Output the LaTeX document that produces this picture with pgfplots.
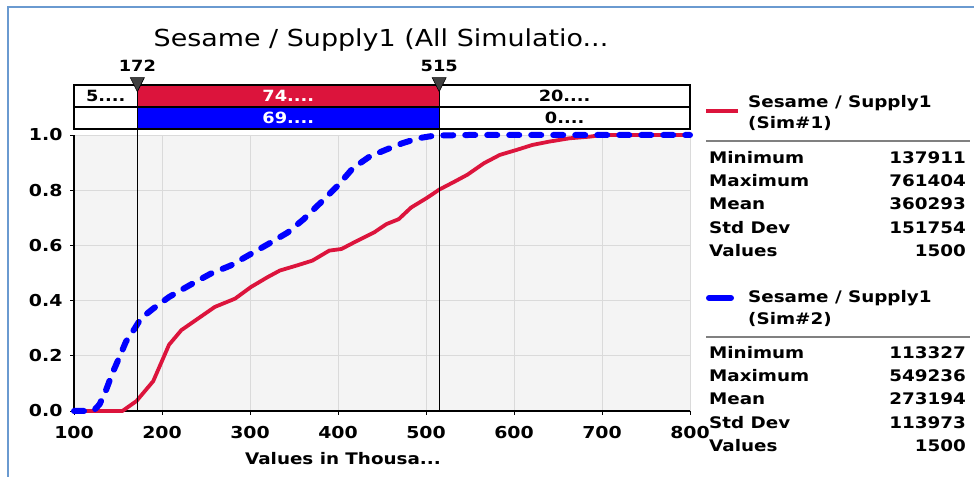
\documentclass[border=0pt]{standalone}
\usepackage{pgfplots}
\pgfplotsset{compat=1.18}
\usepackage{fontspec}
\setmainfont{DejaVu Sans}[FakeStretch=1.15]
\definecolor{cred}{RGB}{220,20,60}
\definecolor{cblue}{RGB}{0,0,255}
\definecolor{bgc}{RGB}{244,244,244}
\definecolor{gridc}{RGB}{218,218,218}
\definecolor{framec}{RGB}{106,154,208}
\pgfplotstableread{
x y
100 0
155 0
171 0.036
190 0.108
199 0.174
208 0.24
222 0.293
241 0.335
260 0.377
283 0.407
301 0.449
320 0.485
334 0.509
353 0.527
371 0.545
390 0.581
404 0.587
422 0.617
441 0.647
455 0.677
469 0.695
483 0.737
501 0.772
515 0.802
533 0.832
547 0.856
566 0.898
584 0.928
603 0.946
621 0.964
640 0.976
663 0.988
686 0.994
700 1.0
761 1.0
800 1.0
}\simone
\pgfplotstableread{
x y
100 0
122 0
129 0.024
136 0.072
143 0.132
152 0.198
159 0.251
169 0.299
176 0.335
190 0.371
208 0.413
231 0.455
255 0.497
278 0.527
301 0.569
324 0.611
343 0.647
361 0.695
380 0.754
399 0.814
417 0.880
436 0.922
454 0.946
473 0.970
491 0.988
510 0.998
549 1.0
800 1.0
}\simtwo
\begin{document}
\begin{tikzpicture}[x=1bp,y=1bp]
\useasboundingbox (0,0) rectangle (974,477);
% frame
\draw[framec, line width=2bp] (8,0) -- (8,470) -- (974,470);
% title
\node[font=\fontsize{23.5}{27}\selectfont] at (381,437) {Sesame / Supply1 (All Simulatio...};
\begin{axis}[
  at={(74bp,66bp)}, anchor=south west,
  scale only axis, width=616bp, height=276bp,
  xmin=100, xmax=800, ymin=0, ymax=1.0,
  clip=false,
  axis x line*=bottom, axis y line*=left,
  axis line style={black, line width=1.2bp},
  axis background/.style={fill=bgc},
  xtick={100,200,...,800},
  ytick={0,0.2,0.4,0.6,0.8,1.0},
  /pgf/number format/assume math mode=true,
  y tick label style={/pgf/number format/fixed, /pgf/number format/fixed zerofill, /pgf/number format/precision=1, xshift=-4bp},
  tick label style={font=\fontsize{16.5}{18}\selectfont\bfseries},
  x tick label style={yshift=-8bp},
  tick style={black, line width=0.8bp},
  tick align=outside, major tick length=4bp,
  grid=major, major grid style={gridc, line width=0.8bp},
  xlabel={}, ylabel={},
]
\addplot[cred, line width=3.8bp, line join=round] table[x=x,y=y] {\simone};
\addplot[cblue, line width=6bp, line cap=round, line join=round, dash pattern=on 10bp off 12bp] table[x=x,y=y] {\simtwo};
% band
\fill[white] (axis cs:100,1.0217) rectangle (axis cs:800,1.181);
\fill[cred] (axis cs:172,1.101) rectangle (axis cs:515,1.181);
\fill[cblue] (axis cs:172,1.0217) rectangle (axis cs:515,1.101);
\draw[black, line width=1.5bp] (axis cs:100,1.0217) rectangle (axis cs:800,1.181);
\draw[black, line width=1.5bp] (axis cs:100,1.101) -- (axis cs:800,1.101);
\draw[black, line width=1bp] (axis cs:172,0) -- (axis cs:172,1.181);
\draw[black, line width=1bp] (axis cs:515,0) -- (axis cs:515,1.181);
\fill[black!75, draw=black, line width=0.6bp] (axis cs:172,1.157) -- (axis cs:164,1.208) -- (axis cs:180,1.208) -- cycle;
\fill[black!75, draw=black, line width=0.6bp] (axis cs:515,1.157) -- (axis cs:507,1.208) -- (axis cs:523,1.208) -- cycle;
\node[font=\fontsize{15.5}{17}\selectfont\bfseries] at (axis cs:172,1.25) {172};
\node[font=\fontsize{15.5}{17}\selectfont\bfseries] at (axis cs:515,1.25) {515};
\node[font=\fontsize{15.5}{17}\selectfont\bfseries] at (axis cs:136,1.141) {5....};
\node[font=\fontsize{15.5}{17}\selectfont\bfseries, white] at (axis cs:343.5,1.141) {74....};
\node[font=\fontsize{15.5}{17}\selectfont\bfseries] at (axis cs:657.5,1.141) {20....};
\node[font=\fontsize{15.5}{17}\selectfont\bfseries, white] at (axis cs:343.5,1.061) {69....};
\node[font=\fontsize{15.5}{17}\selectfont\bfseries] at (axis cs:657.5,1.061) {0....};
\end{axis}
\node[font=\fontsize{16}{18}\selectfont\bfseries] at (343,18) {Values in Thousa...};
% right panel
\begin{scope}[font=\fontsize{16}{18}\selectfont\bfseries]
\draw[cred, line width=4bp] (706,366) -- (738,366);
\node[anchor=west, inner sep=0] at (748,374) {Sesame / Supply1};
\node[anchor=west, inner sep=0] at (748,353) {(Sim\#1)};
\draw[gray, line width=1.5bp] (706,336) -- (970,336);
\node[anchor=west, inner sep=0] at (709,319) {Minimum};
\node[anchor=west, inner sep=0] at (709,296) {Maximum};
\node[anchor=west, inner sep=0] at (709,273) {Mean};
\node[anchor=west, inner sep=0] at (709,249) {Std Dev};
\node[anchor=west, inner sep=0] at (709,226) {Values};
\node[anchor=east, inner sep=0] at (966,319) {137911};
\node[anchor=east, inner sep=0] at (966,296) {761404};
\node[anchor=east, inner sep=0] at (966,273) {360293};
\node[anchor=east, inner sep=0] at (966,249) {151754};
\node[anchor=east, inner sep=0] at (966,226) {1500};
\draw[cblue, line width=6bp, line cap=round] (709,179) -- (731,179);
\node[anchor=west, inner sep=0] at (748,179) {Sesame / Supply1};
\node[anchor=west, inner sep=0] at (748,157) {(Sim\#2)};
\draw[gray, line width=1.5bp] (706,140) -- (970,140);
\node[anchor=west, inner sep=0] at (709,124) {Minimum};
\node[anchor=west, inner sep=0] at (709,101) {Maximum};
\node[anchor=west, inner sep=0] at (709,78) {Mean};
\node[anchor=west, inner sep=0] at (709,54) {Std Dev};
\node[anchor=west, inner sep=0] at (709,31) {Values};
\node[anchor=east, inner sep=0] at (966,124) {113327};
\node[anchor=east, inner sep=0] at (966,101) {549236};
\node[anchor=east, inner sep=0] at (966,78) {273194};
\node[anchor=east, inner sep=0] at (966,54) {113973};
\node[anchor=east, inner sep=0] at (966,31) {1500};
\end{scope}
\end{tikzpicture}
\end{document}
